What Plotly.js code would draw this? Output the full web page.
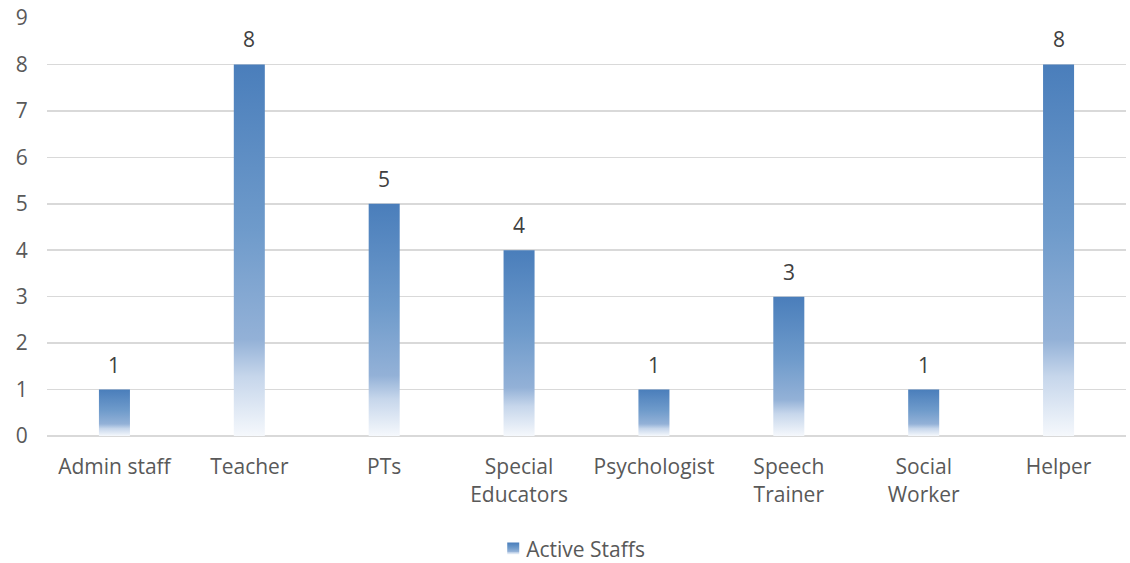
<!DOCTYPE html>
<html>
<head>
<meta charset="utf-8">
<script src="https://cdn.plot.ly/plotly-3.0.1.min.js"></script>
<style>html,body{margin:0;padding:0;background:#fff;}#chart{width:1130px;height:563px;}</style>
</head>
<body>
<div id="chart"></div>
<script>
const categories = ["Admin staff", "Teacher", "PTs", "Special<br>Educators", "Psychologist", "Speech<br>Trainer", "Social<br>Worker", "Helper"];
const activeStaffs = [1, 8, 5, 4, 1, 3, 1, 8];
const seriesName = "Active Staffs";
const yTicks = [0, 1, 2, 3, 4, 5, 6, 7, 8, 9];

const FONT = "'Open Sans', Lato, sans-serif";
const FS = 21;
const trace = {
  type: "bar",
  x: categories,
  y: activeStaffs,
  name: seriesName,
  marker: {color: "#4a7ebb", line: {width: 0}},
  hoverinfo: "none"
};
const annotations = categories.map(function(c, i){
  return {x: c, y: activeStaffs[i], xref: "x", yref: "y", text: String(activeStaffs[i]),
          showarrow: false, yanchor: "bottom", yshift: 9,
          font: {family: FONT, size: FS, color: "#404040"}};
});
const layout = {
  width: 1130, height: 563,
  margin: {l: 47, r: 4, t: 18, b: 127},
  paper_bgcolor: "#fff", plot_bgcolor: "#fff",
  font: {family: FONT, size: FS, color: "#595959"},
  bargap: 0.77,
  showlegend: true,
  annotations: annotations,
  legend: {orientation: "h", x: 0.484, xanchor: "center", yref: "container", y: 0.025, yanchor: "middle",
           font: {family: FONT, size: FS, color: "#595959"}, itemwidth: 30},
  xaxis: {type: "category", showgrid: false, zeroline: false, showline: false, automargin: false,
          ticks: "outside", ticklen: 12, tickcolor: "rgba(0,0,0,0)",
          tickfont: {family: FONT, size: FS, color: "#595959"}},
  yaxis: {range: [0, 9], tickvals: yTicks, ticktext: yTicks.map(String), automargin: false,
          showgrid: true, gridcolor: "#d9d9d9", gridwidth: 1.5,
          zeroline: true, zerolinecolor: "#d9d9d9", zerolinewidth: 1.5,
          showline: false, ticks: "outside", ticklen: 14, tickcolor: "rgba(0,0,0,0)",
          tickfont: {family: FONT, size: FS, color: "#595959"}}
};
Plotly.newPlot("chart", [trace], layout, {displayModeBar: false, staticPlot: true}).then(function(gd){
  const svgNS = "http://www.w3.org/2000/svg";
  const svg = gd.querySelector("svg.main-svg");
  let defs = svg.querySelector("defs");
  if (!defs) { defs = document.createElementNS(svgNS, "defs"); svg.insertBefore(defs, svg.firstChild); }
  const lg = document.createElementNS(svgNS, "linearGradient");
  lg.setAttribute("id", "barGrad");
  lg.setAttribute("x1", "0"); lg.setAttribute("y1", "0");
  lg.setAttribute("x2", "0"); lg.setAttribute("y2", "1");
  [["0", "#4a7ebb"], ["0.45", "#6f9bcb"], ["0.74", "#93b1d7"], ["0.84", "#c6d6eb"], ["1", "#f5f8fc"]].forEach(function(s){
    const st = document.createElementNS(svgNS, "stop");
    st.setAttribute("offset", s[0]); st.setAttribute("stop-color", s[1]);
    lg.appendChild(st);
  });
  defs.appendChild(lg);
  gd.querySelectorAll(".barlayer .point path, .legendpoints path").forEach(function(p){
    p.style.fill = "url(#barGrad)";
  });
  // tighten legend symbol/text gap like the original
  const lt = gd.querySelector(".legend .legendtext");
  const lpts = gd.querySelector(".legend .legendpoints");
  if (lt && lpts) {
    lpts.setAttribute("transform", "translate(6,0)");
    const tb = lt.getBoundingClientRect();
    const pb = lpts.getBoundingClientRect();
    const shiftText = (pb.right + 7) - tb.left;
    lt.setAttribute("x", String(parseFloat(lt.getAttribute("x") || 40) + shiftText));
  }
});
</script>
</body>
</html>
